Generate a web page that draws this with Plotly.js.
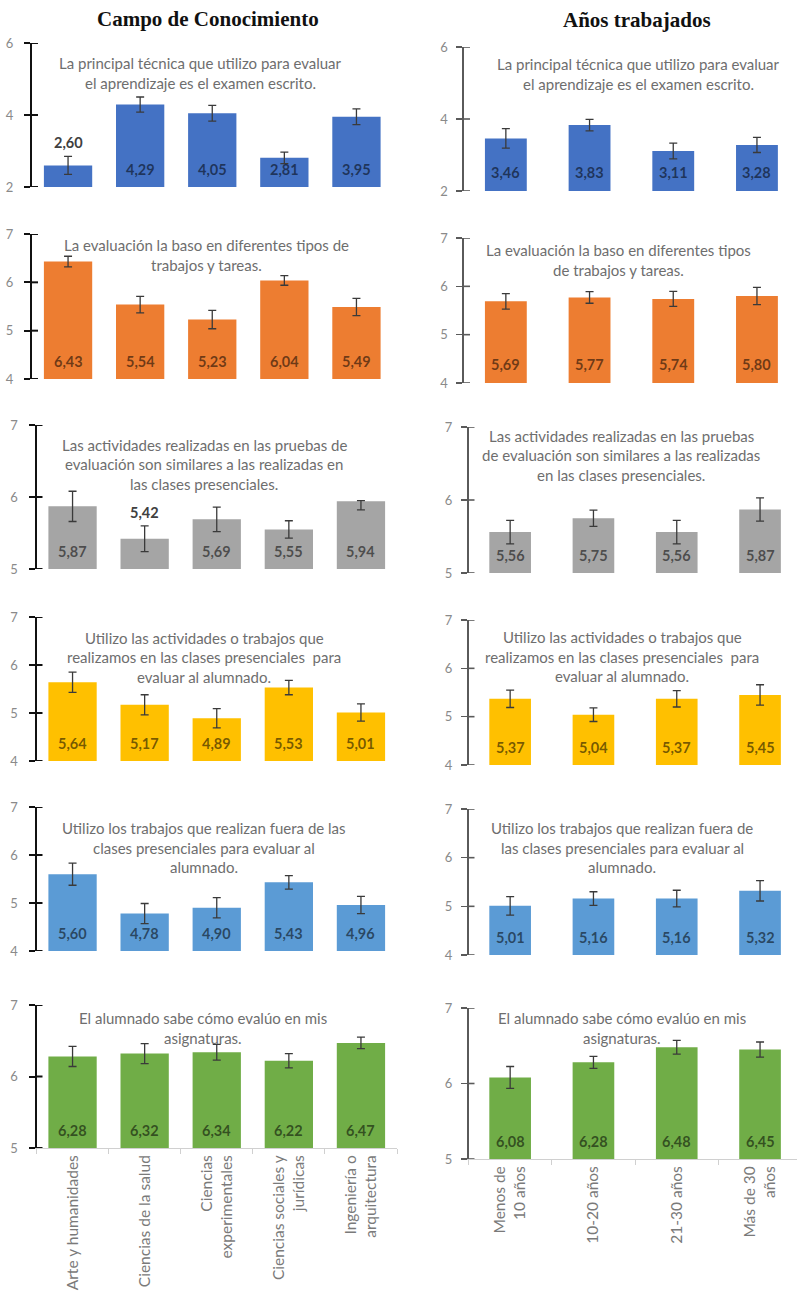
<!DOCTYPE html>
<html>
<head>
<meta charset="utf-8">
<script src="https://cdn.plot.ly/plotly-3.0.1.min.js"></script>
<style>html,body{margin:0;padding:0;background:#fff;}#chart{width:797px;height:1299px;}</style>
</head>
<body>
<div id="chart"></div>
<script>
// ---------- DATA ----------
const columnTitles = ["Campo de Conocimiento", "Años trabajados"];
const campoCategories = ["Arte y humanidades", "Ciencias de la salud", "Ciencias<br>experimentales", "Ciencias sociales y<br>jurídicas", "Ingeniería o<br>arquitectura"];
const aniosCategories = ["Menos de<br>10 años", "10-20 años", "21-30 años", "Más de 30<br>años"];

const questionsCampo = [
  "La principal técnica que utilizo para evaluar<br>el aprendizaje es el examen escrito.",
  "La evaluación la baso en diferentes tipos de<br>trabajos y tareas.",
  "Las actividades realizadas en las pruebas de<br>evaluación son similares a las realizadas en<br>las clases presenciales.",
  "Utilizo las actividades o trabajos que<br>realizamos en las clases presenciales  para<br>evaluar al alumnado.",
  "Utilizo los trabajos que realizan fuera de las<br>clases presenciales para evaluar al<br>alumnado.",
  "El alumnado sabe cómo evalúo en mis<br>asignaturas."
];
const questionsAnios = [
  "La principal técnica que utilizo para evaluar<br>el aprendizaje es el examen escrito.",
  "La evaluación la baso en diferentes tipos<br>de trabajos y tareas.",
  "Las actividades realizadas en las pruebas<br>de evaluación son similares a las realizadas<br>en las clases presenciales.",
  "Utilizo las actividades o trabajos que<br>realizamos en las clases presenciales  para<br>evaluar al alumnado.",
  "Utilizo los trabajos que realizan fuera de<br>las clases presenciales para evaluar al<br>alumnado.",
  "El alumnado sabe cómo evalúo en mis<br>asignaturas."
];

// means
const campoExamen      = [2.60, 4.29, 4.05, 2.81, 3.95];
const campoTrabajos    = [6.43, 5.54, 5.23, 6.04, 5.49];
const campoSimilares   = [5.87, 5.42, 5.69, 5.55, 5.94];
const campoPresencial  = [5.64, 5.17, 4.89, 5.53, 5.01];
const campoFuera       = [5.60, 4.78, 4.90, 5.43, 4.96];
const campoSabe        = [6.28, 6.32, 6.34, 6.22, 6.47];

const aniosExamen      = [3.46, 3.83, 3.11, 3.28];
const aniosTrabajos    = [5.69, 5.77, 5.74, 5.80];
const aniosSimilares   = [5.56, 5.75, 5.56, 5.87];
const aniosPresencial  = [5.37, 5.04, 5.37, 5.45];
const aniosFuera       = [5.01, 5.16, 5.16, 5.32];
const aniosSabe        = [6.08, 6.28, 6.48, 6.45];

// error bar half-lengths (upper); lower where different
const campoExamenErr     = [0.25, 0.21, 0.22, 0.16, 0.22];
const campoTrabajosErr   = [0.11, 0.17, 0.19, 0.10, 0.18];
const campoSimilaresErr  = [0.21, 0.18, 0.17, 0.12, 0.01];
const campoSimilaresErrMinus = [0.21, 0.18, 0.17, 0.12, 0.12];
const campoPresencialErr = [0.21, 0.21, 0.20, 0.15, 0.18];
const campoFueraErr      = [0.23, 0.21, 0.21, 0.14, 0.18];
const campoSabeErr       = [0.14, 0.14, 0.11, 0.10, 0.08];

const aniosExamenErr     = [0.27, 0.16, 0.22, 0.21];
const aniosTrabajosErr   = [0.16, 0.12, 0.155, 0.18];
const aniosSimilaresErr  = [0.16, 0.11, 0.16, 0.16];
const aniosPresencialErr = [0.18, 0.14, 0.17, 0.21];
const aniosFueraErr      = [0.19, 0.14, 0.17, 0.21];
const aniosSabeErr       = [0.145, 0.08, 0.09, 0.10];

// ---------- STYLE / LAYOUT ----------
const W = 797, H = 1299;
const rowColors = ["#4472C4", "#ED7D31", "#A5A5A5", "#FFC000", "#5B9BD5", "#70AD47"];
const rowRanges = [[2, 6], [4, 7], [5, 7], [4, 7], [4, 7], [5, 7]];
const rowDtick = [2, 1, 1, 1, 1, 1];

// pixel geometry per panel
const geomLeft = [
  {yTop: 43,  yBot: 187,  x0: 32,   slot: 72.1, tx: 200, ty: 63},
  {yTop: 234, yBot: 379,  x0: 32,   slot: 72.1, tx: 207, ty: 245},
  {yTop: 425, yBot: 569,  x0: 36.5, slot: 72.1, tx: 204, ty: 445},
  {yTop: 617, yBot: 761,  x0: 36.5, slot: 72.1, tx: 204, ty: 638},
  {yTop: 807, yBot: 951,  x0: 36.5, slot: 72.1, tx: 204, ty: 828},
  {yTop: 1005, yBot: 1148, x0: 36.5, slot: 72.1, tx: 203, ty: 1018}
];
const geomRight = [
  {yTop: 47,  yBot: 191,  x0: 464,   slot: 83.7, tx: 638, ty: 64},
  {yTop: 238, yBot: 383,  x0: 464,   slot: 83.7, tx: 618, ty: 250},
  {yTop: 427, yBot: 573,  x0: 468.5, slot: 83.3, tx: 621, ty: 436},
  {yTop: 620, yBot: 765,  x0: 468.5, slot: 83.3, tx: 622, ty: 637},
  {yTop: 809, yBot: 955,  x0: 468.5, slot: 83.3, tx: 622, ty: 828},
  {yTop: 1008, yBot: 1159, x0: 468.5, slot: 83.3, tx: 622, ty: 1018}
];

const campoSeries = [campoExamen, campoTrabajos, campoSimilares, campoPresencial, campoFuera, campoSabe];
const campoErrs = [campoExamenErr, campoTrabajosErr, campoSimilaresErr, campoPresencialErr, campoFueraErr, campoSabeErr];
const campoErrsMinus = [null, null, campoSimilaresErrMinus, null, null, null];
const aniosSeries = [aniosExamen, aniosTrabajos, aniosSimilares, aniosPresencial, aniosFuera, aniosSabe];
const aniosErrs = [aniosExamenErr, aniosTrabajosErr, aniosSimilaresErr, aniosPresencialErr, aniosFueraErr, aniosSabeErr];

// labels drawn above the error bar instead of at the base
const outsideLabels = {"L0": [0], "L2": [1]};

const FONT = "Lato, 'Open Sans', 'DejaVu Sans', sans-serif";
const fmt = v => v.toFixed(2).replace(".", ",");

const traces = [];
const layout = {
  width: W, height: H,
  margin: {l: 0, r: 0, t: 0, b: 0},
  paper_bgcolor: "#ffffff", plot_bgcolor: "rgba(0,0,0,0)",
  showlegend: false,
  font: {family: FONT},
  annotations: [],
  shapes: []
};

function addPanel(idx, side, row, cats, vals, errs, errsMinus, question, g) {
  const n = idx + 1;
  const xa = "x" + (n === 1 ? "" : n), ya = "y" + (n === 1 ? "" : n);
  const xKey = "xaxis" + (n === 1 ? "" : n), yKey = "yaxis" + (n === 1 ? "" : n);
  const isLeft = side === "L";
  const xEnd = Math.min(g.x0 + cats.length * g.slot, W);
  const range = rowRanges[row];
  const errY = {type: "data", array: errs, visible: true, color: "#3a3a3a", thickness: 1.3, width: 4};
  if (errsMinus) { errY.symmetric = false; errY.arrayminus = errsMinus; }
  traces.push({
    type: "bar", x: cats, xaxis: xa, yaxis: ya,
    marker: {color: rowColors[row]},
    width: isLeft ? 0.67 : 0.5,
    base: range[0],
    y: vals.map(v => v - range[0]),
    error_y: errY,
    hoverinfo: "skip"
  });
  const last = row === 5;
  const axColor = isLeft ? "#111111" : "#5a5a5a";
  const axW = isLeft ? 2 : 1.6;
  layout[xKey] = {
    domain: [g.x0 / W, xEnd / W],
    range: [-0.5, -0.5 + (xEnd - g.x0) / g.slot],
    anchor: ya, type: "category",
    showgrid: false, zeroline: false,
    showline: last, linecolor: "#d0d0d0", linewidth: 1,
    ticks: last ? "outside" : "", tickson: "boundaries", ticklen: 5, tickcolor: "#d0d0d0",
    showticklabels: last, tickangle: -90,
    tickfont: {family: FONT, size: 15.5, color: "#7a7a7a"},
    fixedrange: true
  };
  layout[yKey] = {
    domain: [1 - g.yBot / H, 1 - g.yTop / H],
    range: range, anchor: xa,
    showgrid: false, zeroline: false,
    showline: true, linecolor: axColor, linewidth: axW,
    ticks: "outside", ticklen: 6, tickwidth: axW, tickcolor: axColor,
    dtick: rowDtick[row], tick0: 0,
    ticklabelstandoff: isLeft ? 8 : 6,
    tickfont: {family: FONT, size: 13, color: "#8a8a8a"},
    fixedrange: true
  };
  // inner half of the crossing tick marks
  const domPx = xEnd - g.x0;
  for (let t = range[0]; t <= range[1] + 1e-9; t += rowDtick[row]) {
    layout.shapes.push({
      type: "line", xref: xa + " domain", yref: ya,
      x0: 0, x1: 6 / domPx, y0: t, y1: t,
      line: {color: axColor, width: axW}, layer: "above"
    });
  }
  // subtitle lines
  question.split("<br>").forEach((line, i) => {
    layout.annotations.push({
      xref: "paper", yref: "paper",
      x: g.tx / W, y: 1 - (g.ty + i * 19.5) / H,
      xanchor: "center", yanchor: "middle",
      text: line, showarrow: false,
      font: {family: FONT, size: 15, color: "#6e6e6e"}
    });
  });
  // value labels
  const outs = outsideLabels[side + row] || [];
  vals.forEach((v, i) => {
    const out = outs.indexOf(i) >= 0;
    layout.annotations.push({
      xref: xa, yref: ya,
      x: cats[i], y: out ? v + errs[i] : range[0],
      xanchor: "center", yanchor: out ? "bottom" : "middle",
      yshift: out ? 3 : 18,
      text: "<b>" + fmt(v) + "</b>", showarrow: false,
      font: {family: FONT, size: 14.5, color: out ? "#404040" : "rgba(0,0,0,0.55)"}
    });
  });
}

for (let r = 0; r < 6; r++) {
  addPanel(r * 2, "L", r, campoCategories, campoSeries[r], campoErrs[r], campoErrsMinus[r], questionsCampo[r], geomLeft[r]);
  addPanel(r * 2 + 1, "R", r, aniosCategories, aniosSeries[r], aniosErrs[r], null, questionsAnios[r], geomRight[r]);
}

// column titles
const serif = "'Liberation Serif', 'DejaVu Serif', serif";
layout.annotations.push({xref: "paper", yref: "paper", x: 208 / W, y: 1 - 19 / H, xanchor: "center", yanchor: "middle",
  text: "<b>" + columnTitles[0] + "</b>", showarrow: false, font: {family: serif, size: 21, color: "#111"}});
layout.annotations.push({xref: "paper", yref: "paper", x: 637 / W, y: 1 - 20 / H, xanchor: "center", yanchor: "middle",
  text: "<b>" + columnTitles[1] + "</b>", showarrow: false, font: {family: serif, size: 21, color: "#111"}});

Plotly.newPlot("chart", traces, layout, {displayModeBar: false, staticPlot: true});
</script>
</body>
</html>
